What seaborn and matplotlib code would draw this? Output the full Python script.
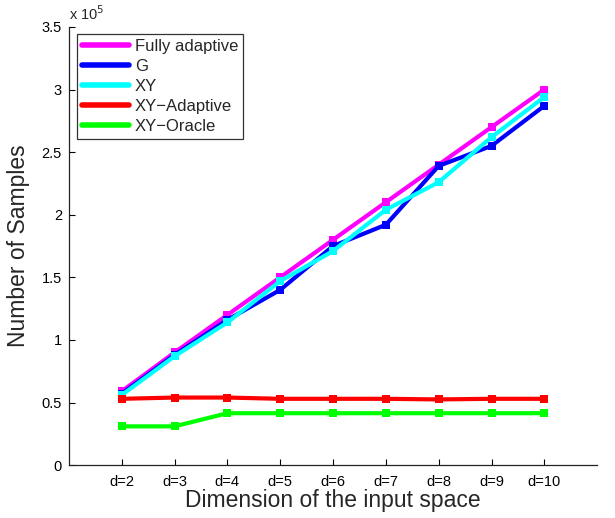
import matplotlib
matplotlib.use("Agg")
import matplotlib.pyplot as plt
import seaborn as sns
import pandas as pd
import numpy as np
from matplotlib.ticker import FuncFormatter, FixedLocator

dims = ["d=2", "d=3", "d=4", "d=5", "d=6", "d=7", "d=8", "d=9", "d=10"]
dim_pos = [2, 3, 4, 5, 6, 7, 8, 9, 10]
fully_adaptive = [59000, 90000, 120000, 150000, 180000, 210000, 240000, 270000, 300000]
g_vals = [57000, 88000, 116000, 140000, 175000, 192000, 239000, 255000, 287000]
xy_vals = [56000, 87000, 114000, 147000, 171000, 204000, 226000, 262000, 294000]
xy_adaptive = [53000, 54000, 54000, 53000, 53000, 53000, 52500, 53000, 53000]
xy_oracle = [31000, 31000, 41500, 41500, 41500, 41500, 41500, 41500, 41500]

series_names = ["Fully adaptive", "G", "XY", "XY\u2212Adaptive", "XY\u2212Oracle"]
series_vals = [fully_adaptive, g_vals, xy_vals, xy_adaptive, xy_oracle]
colors = ["#ff00ff", "#0000ff", "#00ffff", "#ff0000", "#00ff00"]

rows = []
for name, vals in zip(series_names, series_vals):
    for p, v in zip(dim_pos, vals):
        rows.append({"dim": p, "samples": v, "series": name})
df = pd.DataFrame(rows)

sns.set_style("white")
plt.rcParams['font.family'] = ['Liberation Sans', 'DejaVu Sans']

fig = plt.figure(figsize=(6.15, 5.18), dpi=100)
ax = fig.add_axes([0.112, 0.102, 0.859, 0.846])

sns.lineplot(data=df, x="dim", y="samples", hue="series", hue_order=series_names,
             palette=colors, marker="s", markersize=6, markeredgewidth=0,
             linewidth=3, ax=ax, legend=True)
for line in ax.lines:
    line.set_markeredgecolor(line.get_color())
    line.set_markerfacecolor(line.get_color())

ax.set_xlim(1, 11)
ax.set_ylim(0, 350000)
ax.xaxis.set_major_locator(FixedLocator(dim_pos))
ax.set_xticklabels(dims)
ax.yaxis.set_major_locator(FixedLocator(np.arange(0, 350001, 50000)))
ax.yaxis.set_major_formatter(FuncFormatter(lambda v, p: f"{v/1e5:g}"))
ax.tick_params(direction="in", length=4, width=0.8, labelsize=10.5, colors="black",
               top=False, right=False, left=True, bottom=True)
ax.tick_params(axis="x", pad=7)
ax.tick_params(axis="y", pad=5)
for s in ["top", "right"]:
    ax.spines[s].set_visible(False)
for s in ["left", "bottom"]:
    ax.spines[s].set_color("#222222")
    ax.spines[s].set_linewidth(0.9)

ax.set_xlabel("Dimension of the input space", fontsize=16.5, labelpad=0)
ax.set_ylabel("Number of Samples", fontsize=16.5, labelpad=8)
ax.text(0.0, 1.008, "x 10$^{5}$", transform=ax.transAxes, fontsize=10.5,
        ha="left", va="bottom")

leg = ax.legend(loc="upper left", bbox_to_anchor=(0.015, 0.985), fontsize=12,
                frameon=True, fancybox=False, edgecolor="black",
                handlelength=2.8, handletextpad=0.35, borderpad=0.32,
                labelspacing=0.3, borderaxespad=0)
leg.get_frame().set_linewidth(0.9)
for h in leg.get_lines():
    h.set_linewidth(4)
    h.set_marker("")

fig.savefig("out.png", dpi=100, facecolor="white")
